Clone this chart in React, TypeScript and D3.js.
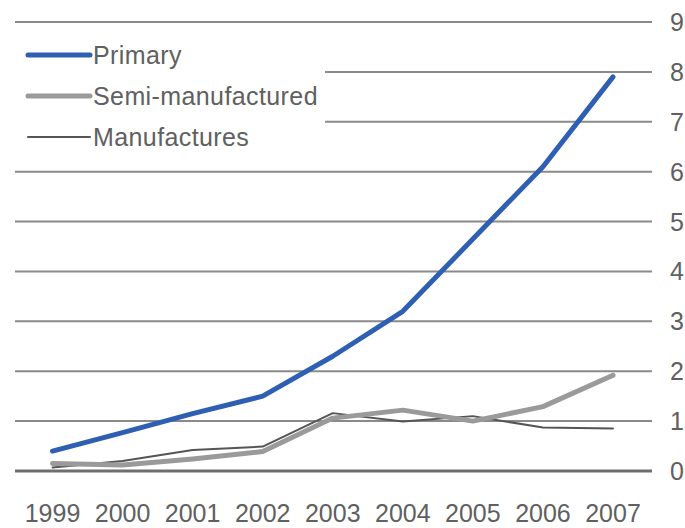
import React from "react";
import * as d3 from "d3";

const years = ["1999", "2000", "2001", "2002", "2003", "2004", "2005", "2006", "2007"];
const primary = [0.4, 0.77, 1.15, 1.5, 2.3, 3.2, 4.65, 6.1, 7.9];
const semiManufactured = [0.15, 0.12, 0.24, 0.39, 1.06, 1.22, 1.0, 1.29, 1.92];
const manufactures = [0.07, 0.2, 0.42, 0.49, 1.16, 0.99, 1.1, 0.87, 0.85];
const yTicks = [0, 1, 2, 3, 4, 5, 6, 7, 8, 9];

const seriesNames = ["Primary", "Semi-manufactured", "Manufactures"];
const seriesColors = ["#2f5fb3", "#9a9a9a", "#555555"];
const seriesWidths = [5, 5, 2];

const W = 685;
const H = 528;
const FONT = "'Liberation Sans', Arial, sans-serif";
const TEXT = "#606060";

export default function App() {
  const x = d3.scalePoint<string>().domain(years).range([52.5, 613]);
  const y = d3.scaleLinear().domain([0, 9]).range([471, 22]);
  const line = d3
    .line<number>()
    .x((_, i) => x(years[i]) as number)
    .y((d) => y(d));
  const data = [primary, semiManufactured, manufactures];

  return (
    <svg
      width={W}
      height={H}
      style={{ position: "absolute", left: 0, top: 0, background: "#fff" }}
    >
      {yTicks.map((t) => (
        <line
          key={"g" + t}
          x1={15}
          x2={652}
          y1={y(t)}
          y2={y(t)}
          stroke={t === 0 ? "#6e6e6e" : "#8a8a8a"}
          strokeWidth={t === 0 ? 3 : 2}
        />
      ))}
      {yTicks.map((t) => (
        <text
          key={"yl" + t}
          x={670}
          y={y(t)}
          dy="0.36em"
          fontFamily={FONT}
          fontSize={25}
          fill={TEXT}
        >
          {t}
        </text>
      ))}
      {years.map((yr) => (
        <text
          key={"xl" + yr}
          x={x(yr)}
          y={522}
          textAnchor="middle"
          fontFamily={FONT}
          fontSize={25}
          fill={TEXT}
        >
          {yr}
        </text>
      ))}
      {data.map((d, i) => (
        <path
          key={"s" + i}
          d={line(d) as string}
          fill="none"
          stroke={seriesColors[i]}
          strokeWidth={seriesWidths[i]}
          strokeLinejoin="round"
          strokeLinecap="round"
        />
      )).reverse()}
      <rect x={15} y={34} width={310} height={126} fill="#fff" />
      {seriesNames.map((n, i) => {
        const ly = 55 + i * 41;
        return (
          <g key={"lg" + i}>
            <line
              x1={28}
              x2={90}
              y1={ly}
              y2={ly}
              stroke={seriesColors[i]}
              strokeWidth={seriesWidths[i]}
              strokeLinecap="round"
            />
            <text
              x={93}
              y={ly}
              dy="0.36em"
              fontFamily={FONT}
              fontSize={25}
              letterSpacing={0.4}
              fill={TEXT}
            >
              {n}
            </text>
          </g>
        );
      })}
    </svg>
  );
}
